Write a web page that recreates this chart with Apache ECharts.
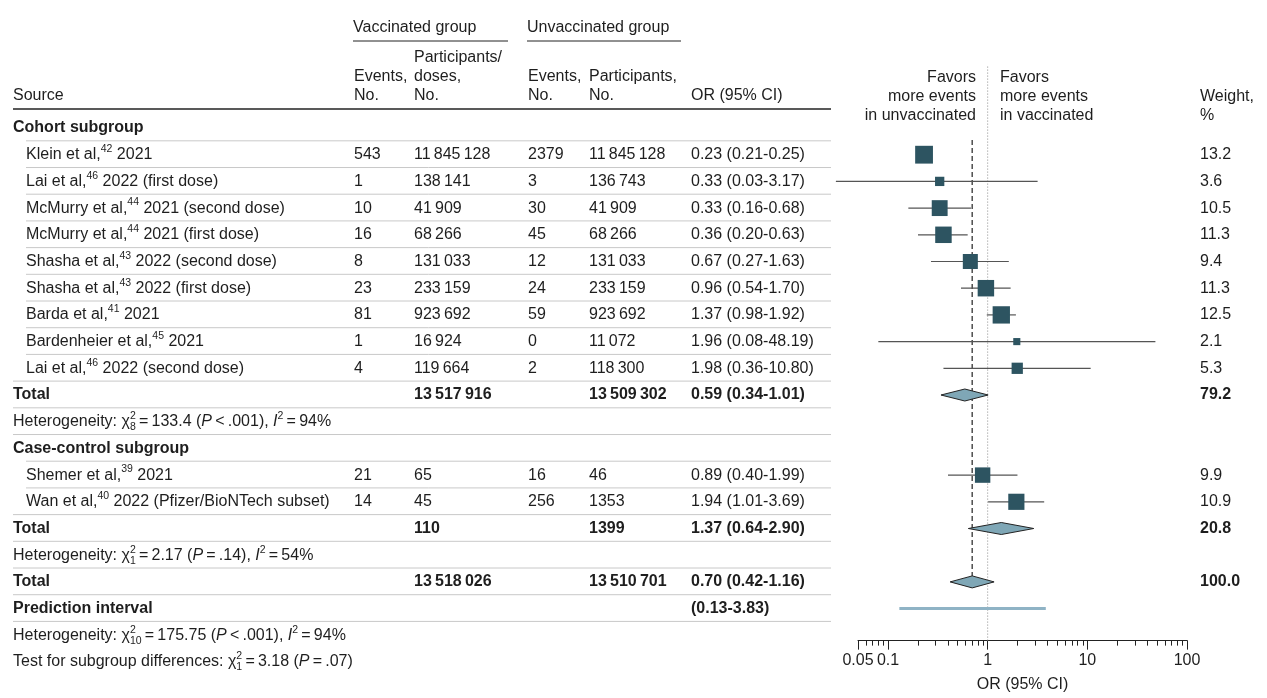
<!DOCTYPE html>
<html>
<head>
<meta charset="utf-8">
<script src="https://cdn.jsdelivr.net/npm/echarts@6/dist/echarts.min.js"></script>
<style>
  html, body { margin: 0; padding: 0; background: #fff; }
  #main { width: 1267px; height: 698px; }
</style>
</head>
<body>
<div id="main"></div>
<script>
// cohort studies
const cohortNames = ['Klein et al,', 'Lai et al,', 'McMurry et al,', 'McMurry et al,', 'Shasha et al,', 'Shasha et al,', 'Barda et al,', 'Bardenheier et al,', 'Lai et al,'];
const cohortRefs = [42, 46, 44, 44, 43, 43, 41, 45, 46];
const cohortNotes = ['2021', '2022 (first dose)', '2021 (second dose)', '2021 (first dose)', '2022 (second dose)', '2022 (first dose)', '2021', '2021', '2022 (second dose)'];
const cohortVacEvents = [543, 1, 10, 16, 8, 23, 81, 1, 4];
const cohortVacN = [11845128, 138141, 41909, 68266, 131033, 233159, 923692, 16924, 119664];
const cohortUnvEvents = [2379, 3, 30, 45, 12, 24, 59, 0, 2];
const cohortUnvN = [11845128, 136743, 41909, 68266, 131033, 233159, 923692, 11072, 118300];
const cohortOR = [0.23, 0.33, 0.33, 0.36, 0.67, 0.96, 1.37, 1.96, 1.98];
const cohortLo = [0.21, 0.03, 0.16, 0.20, 0.27, 0.54, 0.98, 0.08, 0.36];
const cohortHi = [0.25, 3.17, 0.68, 0.63, 1.63, 1.70, 1.92, 48.19, 10.80];
const cohortWeight = [13.2, 3.6, 10.5, 11.3, 9.4, 11.3, 12.5, 2.1, 5.3];

// case-control studies
const caseNames = ['Shemer et al,', 'Wan et al,'];
const caseRefs = [39, 40];
const caseNotes = ['2021', '2022 (Pfizer/BioNTech subset)'];
const caseVacEvents = [21, 14];
const caseVacN = [65, 45];
const caseUnvEvents = [16, 256];
const caseUnvN = [46, 1353];
const caseOR = [0.89, 1.94];
const caseLo = [0.40, 1.01];
const caseHi = [1.99, 3.69];
const caseWeight = [9.9, 10.9];

// pooled: cohort, case-control, overall
const totalVacN = [13517916, 110, 13518026];
const totalUnvN = [13509302, 1399, 13510701];
const totalOR = [0.59, 1.37, 0.70];
const totalLo = [0.34, 0.64, 0.42];
const totalHi = [1.01, 2.90, 1.16];
const totalWeight = [79.2, 20.8, 100.0];
const predLo = 0.13;
const predHi = 3.83;

// heterogeneity: cohort, case-control, overall
const hetChi = ['133.4', '2.17', '175.75'];
const hetDf = [8, 1, 10];
const hetP = ['<\u2009.001', '=\u2009.14', '<\u2009.001'];
const hetI2 = [94, 54, 94];
const subgroupChi = '3.18';
const subgroupDf = 1;
const subgroupP = '=\u2009.07';

// axis
const tickLabels = [0.05, 0.1, 1, 10, 100];

// ---- layout ----
const FONT = 'Liberation Sans';
const TEXT = '#1e1e1e';
const FS = 16;
const ROW_H = 26.7;
const ROW0 = 128;
const TOP = ROW0 - 4 * ROW_H;
const PLOT_LEFT = 858;
const PLOT_W = 329;
const AXIS_SLOT = 19.2;
const col = { src: 13, indent: 26, ve: 354, vn: 414, ue: 528, un: 589, or: 691, w: 1200 };

function fmtN(n) {
  const s = String(n);
  if (n < 10000) return s;
  return s.replace(/\B(?=(\d{3})+(?!\d))/g, '\u2009');
}
function fmtOR(o, l, h) {
  return o.toFixed(2) + ' (' + l.toFixed(2) + '-' + h.toFixed(2) + ')';
}
function hetText(i) {
  return 'Heterogeneity: \u03c7{sp|2}{sb|' + hetDf[i] + '}\u2009=\u2009' + hetChi[i] +
    ' ({it|P}\u2009' + hetP[i] + '), {it|I}{sup|2}\u2009=\u2009' + hetI2[i] + '%';
}
function richFor(weight) {
  const base = { fontFamily: FONT, fontWeight: weight, fill: TEXT };
  return {
    sup: Object.assign({}, base, { fontSize: 10.5, lineHeight: 12, verticalAlign: 'top' }),
    sp: Object.assign({}, base, { fontSize: 10.5, lineHeight: 12, verticalAlign: 'top', width: 0.01 }),
    sb: Object.assign({}, base, { fontSize: 10.5, lineHeight: 12, verticalAlign: 'bottom' }),
    it: Object.assign({}, base, { fontSize: FS, lineHeight: 22, fontStyle: 'italic' })
  };
}

// build table rows
const rows = [];
function addStudies(names, refs, notes, ve, vn, ue, un, o, l, h, w) {
  names.forEach(function (nm, i) {
    rows.push({ kind: 'study', cells: [
      [col.indent, nm + '{sup|' + refs[i] + '} ' + notes[i]],
      [col.ve, String(ve[i])], [col.vn, fmtN(vn[i])],
      [col.ue, String(ue[i])], [col.un, fmtN(un[i])],
      [col.or, fmtOR(o[i], l[i], h[i])], [col.w, w[i].toFixed(1)]
    ] });
  });
}
function addTotal(i) {
  rows.push({ kind: 'total', bold: true, cells: [
    [col.src, 'Total'], [col.vn, fmtN(totalVacN[i])], [col.un, fmtN(totalUnvN[i])],
    [col.or, fmtOR(totalOR[i], totalLo[i], totalHi[i])], [col.w, totalWeight[i].toFixed(1)]
  ] });
}
rows.push({ kind: 'group', bold: true, cells: [[col.src, 'Cohort subgroup']] });
addStudies(cohortNames, cohortRefs, cohortNotes, cohortVacEvents, cohortVacN, cohortUnvEvents, cohortUnvN, cohortOR, cohortLo, cohortHi, cohortWeight);
addTotal(0);
rows.push({ kind: 'het', cells: [[col.src, hetText(0)]] });
rows.push({ kind: 'group', bold: true, cells: [[col.src, 'Case-control subgroup']] });
addStudies(caseNames, caseRefs, caseNotes, caseVacEvents, caseVacN, caseUnvEvents, caseUnvN, caseOR, caseLo, caseHi, caseWeight);
addTotal(1);
rows.push({ kind: 'het', cells: [[col.src, hetText(1)]] });
addTotal(2);
rows.push({ kind: 'pred', bold: true, cells: [[col.src, 'Prediction interval'], [col.or, '(' + predLo.toFixed(2) + '-' + predHi.toFixed(2) + ')']] });
rows.push({ kind: 'het', cells: [[col.src, hetText(2)]] });
rows.push({ kind: 'het', cells: [[col.src, 'Test for subgroup differences: \u03c7{sp|2}{sb|' + subgroupDf + '}\u2009=\u2009' + subgroupChi + ' ({it|P}\u2009' + subgroupP + ')']] });
rows.forEach(function (r, i) { r.slot = i; });

// forest data
const studyPoints = [];
const diamondPoints = [];
let ci = 0, cc = 0, ti = 0;
rows.forEach(function (r) {
  if (r.kind === 'study') {
    if (ci < cohortOR.length) {
      studyPoints.push([cohortOR[ci], r.slot, cohortLo[ci], cohortHi[ci], cohortWeight[ci]]); ci++;
    } else {
      studyPoints.push([caseOR[cc], r.slot, caseLo[cc], caseHi[cc], caseWeight[cc]]); cc++;
    }
  } else if (r.kind === 'total') {
    diamondPoints.push([totalOR[ti], r.slot, totalLo[ti], totalHi[ti]]); ti++;
  }
});
const predSlot = rows.findIndex(function (r) { return r.kind === 'pred'; });
const overallSlot = diamondPoints[2][1];

// separators
const rules = [];
for (let i = 0; i < rows.length - 2; i++) {
  const next = rows[i + 1];
  const indent = (rows[i].kind === 'group' || rows[i].kind === 'study') && next.kind === 'study';
  rules.push([indent ? col.indent : col.src, i + 0.48]);
}

function textEl(x, y, text, opt) {
  opt = opt || {};
  const weight = opt.bold ? 'bold' : 'normal';
  return {
    type: 'text', x: x, y: y, silent: true,
    style: {
      text: text, fontFamily: FONT, fontSize: FS, fontWeight: weight, fill: TEXT,
      lineHeight: 22, align: opt.align || 'left', verticalAlign: 'middle', rich: richFor(weight)
    }
  };
}

const chart = echarts.init(document.getElementById('main'), null, { renderer: 'canvas' });

const headerTexts = [
  ['Vaccinated group', 353, 28], ['Unvaccinated group', 527, 28],
  ['Participants/', col.vn, 58],
  ['Events,', col.ve, 77], ['doses,', col.vn, 77], ['Events,', col.ue, 77], ['Participants,', col.un, 77],
  ['Source', col.src, 96], ['No.', col.ve, 96], ['No.', col.vn, 96], ['No.', col.ue, 96], ['No.', col.un, 96],
  ['OR (95% CI)', col.or, 96],
  ['Favors', 976, 78, 'right'], ['more events', 976, 97, 'right'], ['in unvaccinated', 976, 116, 'right'],
  ['Favors', 1000, 78], ['more events', 1000, 97], ['in vaccinated', 1000, 116],
  ['Weight,', col.w, 97], ['%', col.w, 116]
];
const graphics = headerTexts.map(function (t) { return textEl(t[1], t[2], t[0], { align: t[3] }); });
graphics.push({ type: 'line', silent: true, shape: { x1: 353, y1: 41, x2: 508, y2: 41 }, style: { stroke: '#222', lineWidth: 1 } });
graphics.push({ type: 'line', silent: true, shape: { x1: 527, y1: 41, x2: 681, y2: 41 }, style: { stroke: '#222', lineWidth: 1 } });
graphics.push({ type: 'line', silent: true, shape: { x1: 13, y1: 109, x2: 831, y2: 109 }, style: { stroke: '#222', lineWidth: 1.5 } });

const minorTicks = [];
[0.01, 0.1, 1, 10].forEach(function (d) {
  for (let k = 1; k <= 9; k++) {
    const v = +(d * k).toPrecision(3);
    if (v >= 0.05 && v <= 100) minorTicks.push(v);
  }
});
minorTicks.push(100);

const option = {
  animation: false,
  backgroundColor: '#fff',
  textStyle: { fontFamily: FONT, color: TEXT },
  graphic: graphics,
  grid: [
    { left: PLOT_LEFT, width: PLOT_W, top: TOP, height: (AXIS_SLOT + 4) * ROW_H, outerBoundsMode: 'none', containLabel: false },
    { left: 0, width: 1267, top: TOP, height: 25 * ROW_H, outerBoundsMode: 'none', containLabel: false },
    { left: PLOT_LEFT, width: PLOT_W, top: TOP + (AXIS_SLOT + 4) * ROW_H - 10, height: 10, outerBoundsMode: 'none', containLabel: false }
  ],
  xAxis: [
    {
      gridIndex: 0, type: 'log', logBase: 10, min: 0.05, max: 100, position: 'bottom',
      axisLine: { show: true, onZero: false, lineStyle: { color: '#222', width: 1 } },
      axisTick: { show: true, customValues: minorTicks, length: 5, inside: false, lineStyle: { color: '#222', width: 1 } },
      axisLabel: { show: true, customValues: tickLabels, margin: 12, fontSize: FS, color: TEXT, fontFamily: FONT,
        formatter: function (v) { return String(+v.toPrecision(3)); } },
      splitLine: { show: false },
      name: 'OR (95% CI)', nameLocation: 'middle', nameGap: 36,
      nameTextStyle: { fontSize: FS, color: TEXT, fontFamily: FONT }
    },
    { gridIndex: 1, type: 'value', min: 0, max: 1267, show: false },
    {
      gridIndex: 2, type: 'log', logBase: 10, min: 0.05, max: 100, position: 'bottom',
      axisLine: { show: false, onZero: false },
      axisTick: { show: true, customValues: tickLabels, length: 9, inside: false, lineStyle: { color: '#222', width: 1 } },
      axisLabel: { show: false }, splitLine: { show: false }
    }
  ],
  yAxis: [
    { gridIndex: 0, type: 'value', inverse: true, min: -4, max: AXIS_SLOT, show: false },
    { gridIndex: 1, type: 'value', inverse: true, min: -4, max: 21, show: false },
    { gridIndex: 2, type: 'value', min: 0, max: 1, show: false }
  ],
  series: [
    {
      // table rules
      type: 'custom', xAxisIndex: 1, yAxisIndex: 1, silent: true, z: 1,
      data: rules,
      encode: { x: 0, y: 1 },
      renderItem: function (params, api) {
        const a = api.coord([api.value(0), api.value(1)]);
        const b = api.coord([831, api.value(1)]);
        return { type: 'line', shape: { x1: a[0], y1: a[1], x2: b[0], y2: b[1] }, style: { stroke: '#c9c9c9', lineWidth: 1 } };
      }
    },
    {
      // table text
      type: 'custom', xAxisIndex: 1, yAxisIndex: 1, silent: true, z: 3,
      data: rows.map(function (r) { return [0, r.slot]; }),
      encode: { x: 0, y: 1 },
      renderItem: function (params, api) {
        const r = rows[params.dataIndex];
        const children = r.cells.map(function (c) {
          const p = api.coord([c[0], r.slot]);
          return textEl(p[0], p[1], c[1], { bold: r.bold });
        });
        return { type: 'group', children: children };
      }
    },
    {
      // reference line at OR = 1
      type: 'line', xAxisIndex: 0, yAxisIndex: 0, silent: true, symbol: 'none', z: 2,
      data: [[1, -2.3], [1, AXIS_SLOT]],
      lineStyle: { color: '#8a8a8a', width: 1, type: [1, 2] }
    },
    {
      // pooled overall estimate
      type: 'line', xAxisIndex: 0, yAxisIndex: 0, silent: true, symbol: 'none', z: 2,
      data: [[totalOR[2], 0.45], [totalOR[2], overallSlot - 0.22]],
      lineStyle: { color: '#555', width: 1.6, type: [5, 3] }
    },
    {
      // prediction interval
      type: 'line', xAxisIndex: 0, yAxisIndex: 0, silent: true, symbol: 'none', z: 3,
      data: [[predLo, predSlot], [predHi, predSlot]],
      lineStyle: { color: '#8fb3c5', width: 3, cap: 'butt' }
    },
    {
      // study estimates
      type: 'custom', xAxisIndex: 0, yAxisIndex: 0, silent: true, z: 4,
      data: studyPoints,
      encode: { x: 0, y: 1 },
      renderItem: function (params, api) {
        const slot = api.value(1);
        const p = api.coord([api.value(0), slot]);
        const pl = api.coord([api.value(2), slot]);
        const ph = api.coord([api.value(3), slot]);
        const s = 4.9 * Math.sqrt(api.value(4));
        return { type: 'group', children: [
          { type: 'line', shape: { x1: pl[0], y1: p[1], x2: ph[0], y2: p[1] }, style: { stroke: '#555', lineWidth: 1.2 } },
          { type: 'rect', shape: { x: p[0] - s / 2, y: p[1] - s / 2, width: s, height: s }, style: { fill: '#2d5461' } }
        ] };
      }
    },
    {
      // pooled diamonds
      type: 'custom', xAxisIndex: 0, yAxisIndex: 0, silent: true, z: 4,
      data: diamondPoints,
      encode: { x: 0, y: 1 },
      renderItem: function (params, api) {
        const slot = api.value(1);
        const p = api.coord([api.value(0), slot]);
        const pl = api.coord([api.value(2), slot]);
        const ph = api.coord([api.value(3), slot]);
        const h = 6;
        return {
          type: 'polygon',
          shape: { points: [[pl[0], p[1]], [p[0], p[1] - h], [ph[0], p[1]], [p[0], p[1] + h]] },
          style: { fill: '#7fa7b6', stroke: '#222', lineWidth: 1 }
        };
      }
    }
  ]
};
chart.setOption(option);
</script>
</body>
</html>
